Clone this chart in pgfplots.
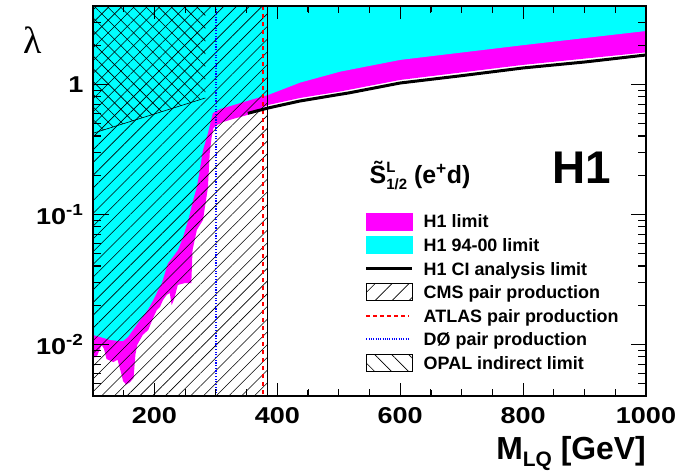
\documentclass[border=0pt]{standalone}
\usepackage{pgfplots}
\pgfplotsset{compat=1.18}
\usetikzlibrary{patterns.meta}
\usepackage{fontspec}
\setmainfont{Liberation Sans}
\newfontfamily\tickfont{Liberation Sans}[FakeStretch=1.18]
\newfontfamily\serifgreek{Liberation Serif}
\definecolor{rmag}{HTML}{FF00FF}
\definecolor{rcyan}{HTML}{00FFFF}
\begin{document}
\begin{tikzpicture}
\begin{axis}[
  scale only axis, width=553bp, height=390bp,
  xmin=100, xmax=1000, ymode=log, ymin=0.004, ymax=4,
  axis on top,
  axis line style={line width=1.3bp},
  tick align=inside,
  major tick length=13bp, minor tick length=7bp,
  tick style={black, line width=1bp},
  unbounded coords=jump,
  xtick={200,400,600,800,1000},
  xticklabels={200,400,600,800,1000},
  minor x tick num=3,
  ytick={0.01,0.1,1},
  yticklabels={10\textsuperscript{-2},10\textsuperscript{-1},1},
  ticklabel style={font=\tickfont\bfseries\fontsize{23}{23}\selectfont},
  xticklabel style={yshift=-8bp},
  yticklabel style={xshift=-6bp},
  xlabel={M\raisebox{-7bp}{\fontsize{21}{21}\selectfont LQ} [GeV]},
  every axis x label/.style={at={(rel axis cs:1,-0.163)}, anchor=base east, font=\bfseries\fontsize{32}{32}\selectfont, inner sep=0pt},
  ylabel={\serifgreek λ},
  every axis y label/.style={at={(rel axis cs:-0.1085,0.913)}, anchor=center, font=\fontsize{38}{38}\selectfont},
  legend style={draw=none, fill=none, at={(rel axis cs:0.4919,0.4705)}, anchor=north west,
    font=\bfseries\fontsize{18}{18}\selectfont, cells={anchor=west}, row sep=6.3bp,
    inner sep=0pt, nodes={inner sep=0pt, text height=13bp, text depth=0pt},
    /tikz/column sep=10bp},
]
% H1 limit (new)
\addplot[fill=rmag, draw=none, forget plot] coordinates {
(100,0.0079)(106,0.0080)(110,0.0089)(114,0.0099)(118,0.0092)(122,0.0077)(133,0.0073)(140,0.0076)
(145,0.0062)(149,0.0052)(154,0.0049)(160,0.0051)(166,0.0055)(169,0.0083)(172,0.0099)(181,0.0118)
(190,0.0129)(198,0.016)(204,0.0184)(209,0.0194)(214,0.0219)(220,0.024)(225,0.0248)(228,0.020)
(232,0.0222)(238,0.0286)(250,0.0296)(260,0.0296)(262,0.053)(269,0.0757)(279,0.0903)(287,0.16)
(290,0.296)(293,0.39)(296,0.46)(302,0.486)(312,0.513)(328,0.541)(351,0.58)(385,0.693)(437,0.785)
(502,0.88)(600,1.08)(800,1.41)(1000,1.76)(1000,10)(100,10)(100,0.0079)};
% H1 94-00 limit
\addplot[fill=rcyan, draw=none, forget plot] coordinates {
(100,0.0118)(111,0.0114)(128,0.0108)(141,0.0106)(149,0.0106)(157,0.0114)(165,0.0129)(173,0.0146)
(181,0.0163)(190,0.0187)(198,0.0219)(206,0.0262)(212,0.0296)(222,0.0422)(230,0.047)(238,0.053)
(246,0.0657)(255,0.0903)(263,0.129)(269,0.162)(279,0.312)(287,0.422)(295,0.601)(307,0.646)
(318,0.669)(356,0.757)(385,0.828)(437,1.03)(502,1.25)(600,1.54)(800,2.0)(1000,2.57)(1000,10)(100,10)(100,0.0118)};
% CMS pair production
\addplot[draw=none, pattern={Lines[angle=45,distance=9bp,line width=0.6bp]}, pattern color=black, forget plot]
  coordinates {(100,0.001)(384,0.001)(384,10)(100,10)(100,0.001)};
\addplot[black, line width=0.8bp, forget plot] coordinates {(384,0.001)(384,10)};
% OPAL indirect limit
\addplot[draw=none, pattern={Lines[angle=-45,distance=9bp,line width=0.6bp]}, pattern color=black, forget plot]
  coordinates {(100,0.42)(283,0.785)(283,10)(100,10)(100,0.42)};
\addplot[black, line width=0.6bp, forget plot] coordinates {(100,0.42)(283,0.785)};
% D0
\addplot[blue, line width=1.6bp, dash pattern=on 1.2bp off 1.5bp, forget plot] coordinates {(300,0.001)(300,10)};
% ATLAS
\addplot[red, line width=2bp, dash pattern=on 4.5bp off 3.5bp, forget plot] coordinates {(376,0.001)(376,10)};
% H1 CI analysis limit
\addplot[black, line width=3bp, forget plot] coordinates {
(352,0.598)(385,0.657)(437,0.744)(518,0.861)(600,1.023)(697,1.16)(800,1.335)(901,1.485)(1000,1.68)};

% tick marks drawn inside the frame on all four sides
\addplot[black, line width=1.2bp, forget plot] coordinates {
(200,0.004)(200,0.00495)(200,nan)(400,0.004)(400,0.00495)(400,nan)
(600,0.004)(600,0.00495)(600,nan)(800,0.004)(800,0.00495)(800,nan)
(200,4)(200,3.18)(200,nan)(400,4)(400,3.18)(400,nan)
(600,4)(600,3.18)(600,nan)(800,4)(800,3.18)};
\addplot[black, line width=1.2bp, forget plot] coordinates {
(150,0.004)(150,0.00445)(150,nan)(250,0.004)(250,0.00445)(250,nan)(300,0.004)(300,0.00445)(300,nan)
(350,0.004)(350,0.00445)(350,nan)(450,0.004)(450,0.00445)(450,nan)(500,0.004)(500,0.00445)(500,nan)
(550,0.004)(550,0.00445)(550,nan)(650,0.004)(650,0.00445)(650,nan)(700,0.004)(700,0.00445)(700,nan)
(750,0.004)(750,0.00445)(750,nan)(850,0.004)(850,0.00445)(850,nan)(900,0.004)(900,0.00445)(900,nan)
(950,0.004)(950,0.00445)};
\addplot[black, line width=1.2bp, forget plot] coordinates {
(150,4)(150,3.6)(150,nan)(250,4)(250,3.6)(250,nan)(300,4)(300,3.6)(300,nan)
(350,4)(350,3.6)(350,nan)(450,4)(450,3.6)(450,nan)(500,4)(500,3.6)(500,nan)
(550,4)(550,3.6)(550,nan)(650,4)(650,3.6)(650,nan)(700,4)(700,3.6)(700,nan)
(750,4)(750,3.6)(750,nan)(850,4)(850,3.6)(850,nan)(900,4)(900,3.6)(900,nan)
(950,4)(950,3.6)};
\addplot[black, line width=1.2bp, forget plot] coordinates {
(100,0.01)(126,0.01)(nan,0.01)(100,0.1)(126,0.1)(nan,0.1)(100,1)(126,1)(nan,1)
(1000,0.01)(975.6,0.01)(nan,0.01)(1000,0.1)(975.6,0.1)(nan,0.1)(1000,1)(975.6,1)};
\addplot[black, line width=1.2bp, forget plot] coordinates {
(100,0.005)(113,0.005)(nan,0.005)(100,0.006)(113,0.006)(nan,0.006)(100,0.007)(113,0.007)(nan,0.007)
(100,0.008)(113,0.008)(nan,0.008)(100,0.009)(113,0.009)(nan,0.009)
(100,0.02)(113,0.02)(nan,0.02)(100,0.03)(113,0.03)(nan,0.03)(100,0.04)(113,0.04)(nan,0.04)
(100,0.05)(113,0.05)(nan,0.05)(100,0.06)(113,0.06)(nan,0.06)(100,0.07)(113,0.07)(nan,0.07)
(100,0.08)(113,0.08)(nan,0.08)(100,0.09)(113,0.09)(nan,0.09)
(100,0.2)(113,0.2)(nan,0.2)(100,0.3)(113,0.3)(nan,0.3)(100,0.4)(113,0.4)(nan,0.4)
(100,0.5)(113,0.5)(nan,0.5)(100,0.6)(113,0.6)(nan,0.6)(100,0.7)(113,0.7)(nan,0.7)
(100,0.8)(113,0.8)(nan,0.8)(100,0.9)(113,0.9)(nan,0.9)
(100,2)(113,2)(nan,2)(100,3)(113,3)};
\addplot[black, line width=1.2bp, forget plot] coordinates {
(1000,0.005)(987,0.005)(nan,0.005)(1000,0.006)(987,0.006)(nan,0.006)(1000,0.007)(987,0.007)(nan,0.007)
(1000,0.008)(987,0.008)(nan,0.008)(1000,0.009)(987,0.009)(nan,0.009)
(1000,0.02)(987,0.02)(nan,0.02)(1000,0.03)(987,0.03)(nan,0.03)(1000,0.04)(987,0.04)(nan,0.04)
(1000,0.05)(987,0.05)(nan,0.05)(1000,0.06)(987,0.06)(nan,0.06)(1000,0.07)(987,0.07)(nan,0.07)
(1000,0.08)(987,0.08)(nan,0.08)(1000,0.09)(987,0.09)(nan,0.09)
(1000,0.2)(987,0.2)(nan,0.2)(1000,0.3)(987,0.3)(nan,0.3)(1000,0.4)(987,0.4)(nan,0.4)
(1000,0.5)(987,0.5)(nan,0.5)(1000,0.6)(987,0.6)(nan,0.6)(1000,0.7)(987,0.7)(nan,0.7)
(1000,0.8)(987,0.8)(nan,0.8)(1000,0.9)(987,0.9)(nan,0.9)
(1000,2)(987,2)(nan,2)(1000,3)(987,3)};

\addlegendimage{legend image code/.code={\fill[rmag] (0bp,-8.5bp) rectangle (46bp,8.5bp);}}
\addlegendimage{legend image code/.code={\fill[rcyan] (0bp,-8.5bp) rectangle (46bp,8.5bp);}}
\addlegendimage{legend image code/.code={\draw[black, line width=2.5bp] (0bp,0bp) -- (46bp,0bp); \path[draw=none,fill=none] (0bp,-8.5bp) rectangle (46bp,8.5bp);}}
\addlegendimage{legend image code/.code={\draw[black, line width=0.6bp, pattern={Lines[angle=45,distance=12bp,line width=0.6bp]}] (0bp,-8.5bp) rectangle (46bp,8.5bp);}}
\addlegendimage{legend image code/.code={\draw[red, line width=1.5bp, dash pattern=on 4bp off 3bp] (0bp,0bp) -- (43bp,0bp); \path[draw=none,fill=none] (0bp,-8.5bp) rectangle (46bp,8.5bp);}}
\addlegendimage{legend image code/.code={\draw[blue, line width=1.3bp, dash pattern=on 1bp off 1.3bp] (0bp,0bp) -- (43bp,0bp); \path[draw=none,fill=none] (0bp,-8.5bp) rectangle (46bp,8.5bp);}}
\addlegendimage{legend image code/.code={\draw[black, line width=0.6bp, pattern={Lines[angle=-45,distance=12bp,line width=0.6bp]}] (0bp,-8.5bp) rectangle (46bp,8.5bp);}}
\legend{H1 limit, H1 94-00 limit, H1 CI analysis limit, CMS pair production, ATLAS pair production, D\O{} pair production, OPAL indirect limit}

\node[anchor=base east, font=\bfseries\fontsize{46}{46}\selectfont, inner sep=0pt] at (rel axis cs:0.937,0.546) {H1};
\node[anchor=base west, font=\bfseries\fontsize{25}{25}\selectfont, inner sep=0pt] at (rel axis cs:0.500,0.546)
  {\~{S}\makebox[0pt][l]{\raisebox{11bp}{\fontsize{15}{15}\selectfont L}}\raisebox{-6bp}{\fontsize{15}{15}\selectfont 1/2} (e\textsuperscript{+}d)};
\coordinate (ll) at (rel axis cs:0,0);
\coordinate (ur) at (rel axis cs:1,1);
\end{axis}
\pgfresetboundingbox
\path ([shift={(-93bp,-76bp)}]ll) rectangle ([shift={(52bp,6bp)}]ur);
\end{tikzpicture}
\end{document}
